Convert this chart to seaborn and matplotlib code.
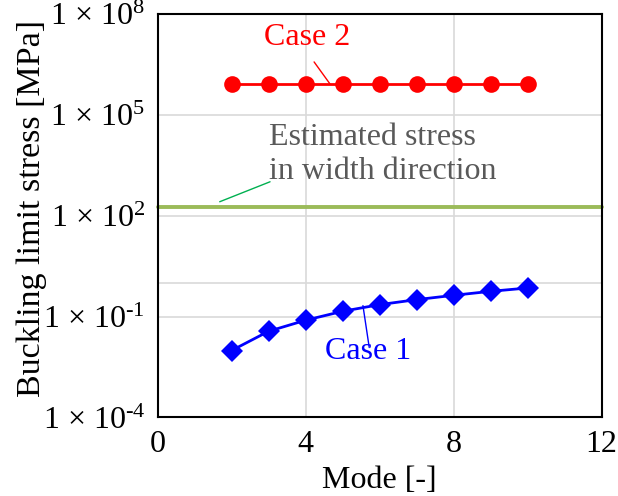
import numpy as np
import pandas as pd
import matplotlib
matplotlib.use("Agg")
import matplotlib.pyplot as plt
import matplotlib.ticker as mticker
import seaborn as sns

# data
modes = [2, 3, 4, 5, 6, 7, 8, 9, 10]
case1 = [0.0098, 0.0366, 0.078, 0.144, 0.227, 0.32, 0.43, 0.565, 0.71]
case2 = [8.3e5] * 9
estimated_stress = 177.0

y_ticks = [1e-4, 1e-1, 1e2, 1e5, 1e8]
x_ticks = [0, 4, 8, 12]

df = pd.DataFrame({
    "Mode": modes * 2,
    "Stress": case1 + case2,
    "Case": ["Case 1"] * 9 + ["Case 2"] * 9,
})

sns.set_theme(style="whitegrid")
plt.rcParams["font.family"] = ["Liberation Serif", "DejaVu Serif"]
plt.rcParams["mathtext.fontset"] = "custom"
plt.rcParams["mathtext.rm"] = "Liberation Serif"
plt.rcParams["mathtext.it"] = "Liberation Serif:italic"

FS = 23

fig = plt.figure(figsize=(6.18, 4.96), dpi=100)
ax = fig.add_axes([0.2549, 0.1583, 0.7187, 0.8135])

ax.set_yscale("log")
ax.set_xlim(0, 12)
ax.set_ylim(1e-4, 1e8)

# gridlines (Excel style) + horizontal axis crossing at 1
ax.grid(True, color="#d9d9d9", lw=1.2)
ax.axhline(1, color="#d9d9d9", lw=1.2, zorder=0.5)

sns.lineplot(data=df[df["Case"] == "Case 2"], x="Mode", y="Stress", ax=ax,
             color="#ff0000", lw=2, marker="o", markersize=12,
             markeredgewidth=0, legend=False, zorder=3)
sns.lineplot(data=df[df["Case"] == "Case 1"], x="Mode", y="Stress", ax=ax,
             color="#0000ff", lw=2, marker="D", markersize=11.5,
             markeredgewidth=0, legend=False, zorder=3)

ax.axhline(estimated_stress, color="#9bbb59", lw=2.8, zorder=2, clip_on=False)


def fmt(v, p):
    e = int(round(np.log10(v)))
    s = str(e).replace("-", "\u2010")
    return "1 × 10$^{\\mathregular{%s}}$" % s


ax.xaxis.set_major_locator(mticker.FixedLocator(x_ticks))
ax.yaxis.set_major_locator(mticker.FixedLocator(y_ticks))
ax.yaxis.set_minor_locator(mticker.NullLocator())
ax.yaxis.set_major_formatter(mticker.FuncFormatter(fmt))
ax.tick_params(axis="both", length=0, labelsize=FS, colors="black")
ax.tick_params(axis="y", pad=9)
ax.tick_params(axis="x", pad=9)

for s in ax.spines.values():
    s.set_color("black")
    s.set_linewidth(1.5)

ax.set_xlabel("Mode [-]", fontsize=FS, color="black")
ax.xaxis.label.set_va("center")
ax.xaxis.set_label_coords(0.5, -0.155)
ax.set_ylabel("Buckling limit stress [MPa]", fontsize=24.5, color="black")
ax.yaxis.label.set_va("center")
ax.yaxis.set_label_coords(-0.283, 0.517)

# leader lines
ax.plot([4.23, 4.66], [10 ** 6.574, case2[4]], color="#ff0000", lw=1)
ax.plot([1.68, 3.04], [10 ** 2.416, 10 ** 3.01], color="#00b050", lw=1)
ax.plot([5.55, 5.72], [10 ** -0.673, 10 ** -1.92], color="#0000ff", lw=1)

# labels
ax.text(4.04, 10 ** 7.3, "Case 2", fontsize=FS, color="#ff0000",
        ha="center", va="center")
ax.text(3.01, 10 ** 3.827, "Estimated stress\nin width direction",
        fontsize=FS, color="#595959", ha="left", va="center")
ax.text(5.69, 10 ** -2.04, "Case 1", fontsize=FS, color="#0000ff",
        ha="center", va="center")

fig.savefig("out.png", dpi=100)
